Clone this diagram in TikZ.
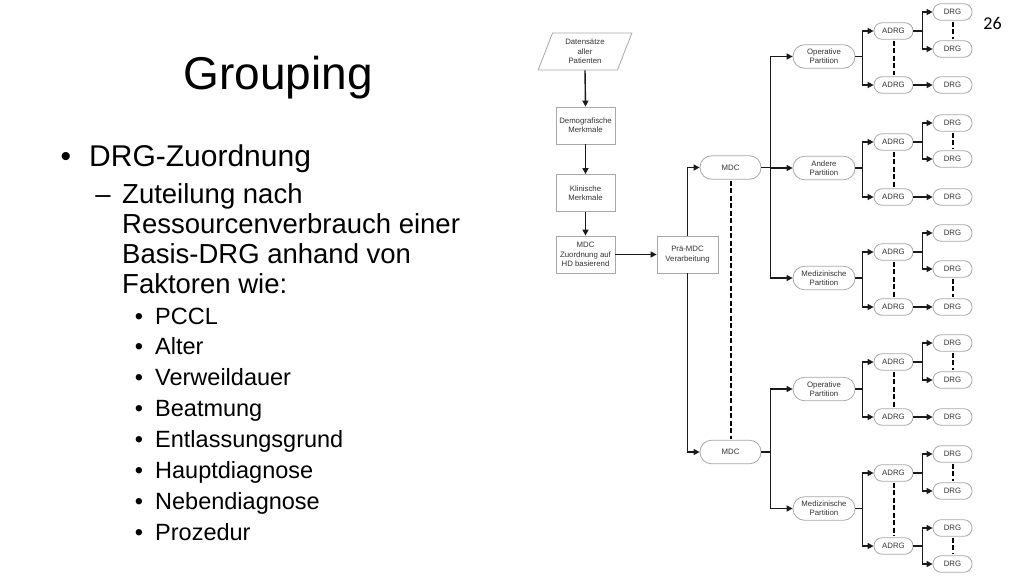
\documentclass[tikz,border=0pt]{standalone}
\usepackage{fontspec}
\setmainfont{Liberation Sans}
\newfontfamily\calib{Carlito}
\usetikzlibrary{arrows.meta,shapes.geometric}
\definecolor{nodeborder}{HTML}{A8A8A8}
\definecolor{ntext}{HTML}{333333}
\definecolor{conncol}{HTML}{1A1A1A}
\begin{document}
\begin{tikzpicture}[x=1pt,y=-1pt,
 box/.style={draw=nodeborder, line width=0.8pt, fill=white, text=ntext, font=\fontsize{7.8}{9.3}\selectfont, align=center, inner sep=0pt},
 rectbox/.style={box, minimum width=59pt, minimum height=37pt},
 pill/.style={box, rounded corners=8pt, minimum width=39pt, minimum height=16.5pt},
 bigpill/.style={box, rounded corners=11.5pt, minimum width=61pt, minimum height=23.5pt},
 conn/.style={draw=conncol, line width=1.4pt, -{Triangle[length=6pt,width=6pt]}},
 dashln/.style={draw=black, line width=2pt, dash pattern=on 5pt off 2.5pt, shorten <=1pt, shorten >=1pt},
 txt/.style={inner sep=0pt, anchor=base west},
 bul/.style={inner sep=0pt, anchor=base},
 f1/.style={font=\fontsize{46}{54}\selectfont},
 f2/.style={font=\fontsize{30}{36}\selectfont},
 f3/.style={font=\fontsize{27.5}{33}\selectfont},
 f4/.style={font=\fontsize{23.5}{28}\selectfont}
]
\useasboundingbox[fill=white] (0,0) rectangle (1024,576);

% left text
\node[bul,f1] (title) at (278,89) {Grouping};
\node[bul,f2] (b1) at (66,166) {•};
\node[txt,f2] (t1) at (89,166) {DRG-Zuordnung};
\node[bul,f3] (b2) at (103,203) {–};
\node[txt,f3] (t2a) at (122,203) {Zuteilung nach};
\node[txt,f3] (t2b) at (122,233) {Ressourcenverbrauch einer};
\node[txt,f3] (t2c) at (122,263) {Basis-DRG anhand von};
\node[txt,f3] (t2d) at (122,293) {Faktoren wie:};
\foreach \lab [count=\i from 0] in {PCCL,Alter,Verweildauer,Beatmung,Entlassungsgrund,Hauptdiagnose,Nebendiagnose,Prozedur}{
  \node[bul,f4] (sb\i) at (139,324+30.86*\i) {•};
  \node[txt,f4] (st\i) at (155,324+30.86*\i) {\lab};
}
\node[bul,font=\calib\fontsize{18}{20}\selectfont] (num) at (992.5,29) {26};

% flow chart left column
\node[box, trapezium, trapezium left angle=70, trapezium right angle=110, trapezium stretches=true, minimum width=94pt, minimum height=37pt] (dat) at (585,51.5) {Datensätze\\aller\\Patienten};
\node[rectbox] (demo) at (585.5,125.5) {Demografische\\Merkmale};
\node[rectbox] (klin) at (585.5,193) {Klinische\\Merkmale};
\node[rectbox] (zuo) at (585.5,254.5) {MDC\\Zuordnung auf\\HD basierend};
\node[rectbox, minimum width=61pt] (pra) at (687.5,254.5) {Prä-MDC\\Verarbeitung};
\node[bigpill] (mdcA) at (730.5,167.5) {MDC};
\node[bigpill] (mdcB) at (730.5,452) {MDC};

\draw[conn] (dat.south) -- (demo.north);
\draw[conn] (demo.south) -- (klin.north);
\draw[conn] (klin.south) -- (zuo.north);
\draw[conn] (zuo.east) -- (pra.west);
\draw[conn] (pra.north) |- (mdcA.west);
\draw[conn] (pra.south) |- (mdcB.west);
\draw[dashln] (mdcA.south) -- (mdcB.north);

% partitions
\node[bigpill, minimum width=62pt] (p1) at (824,56.5) {Operative\\Partition};
\node[bigpill, minimum width=62pt] (p2) at (824,168) {Andere\\Partition};
\node[bigpill, minimum width=62pt] (p3) at (824,278) {Medizinische\\Partition};
\node[bigpill, minimum width=62pt] (p4) at (824,389) {Operative\\Partition};
\node[bigpill, minimum width=62pt] (p5) at (824,508.5) {Medizinische\\Partition};
\foreach \p in {p1,p2,p3}{\draw[conn] (mdcA.east) -- ++(9,0) |- (\p.west);}
\foreach \p in {p4,p5}{\draw[conn] (mdcB.east) -- ++(9,0) |- (\p.west);}

% ADRG and DRG nodes
\foreach \g/\ya/\yb in {1/31/85, 2/142/197, 3/252/307, 4/362/417, 5/473/546}{
  \node[pill] (g\g a1) at (893.5,\ya) {ADRG};
  \node[pill] (g\g a2) at (893.5,\yb) {ADRG};
  \draw[conn] (p\g.east) -- ++(7,0) |- (g\g a1.west);
  \draw[conn] (p\g.east) -- ++(7,0) |- (g\g a2.west);
  \draw[dashln] (g\g a1.south) -- (g\g a2.north);
}
\foreach \g/\ya/\yb/\yc in {1/12/49/85, 2/123/159/197, 3/233/269/307, 4/343/380/417}{
  \node[pill] (g\g d1) at (952.5,\ya) {DRG};
  \node[pill] (g\g d2) at (952.5,\yb) {DRG};
  \node[pill] (g\g d3) at (952.5,\yc) {DRG};
  \draw[conn] (g\g a1.east) -- ++(9,0) |- (g\g d1.west);
  \draw[conn] (g\g a1.east) -- ++(9,0) |- (g\g d2.west);
  \draw[conn] (g\g a2.east) -- (g\g d3.west);
}
\draw[dashln] (g1d1.south) -- (g1d2.north);
\draw[dashln] (g2d1.south) -- (g2d2.north);
\draw[dashln] (g3d2.south) -- (g3d3.north);
\draw[dashln] (g4d1.south) -- (g4d2.north);

\node[pill] (g5d1) at (952.5,454) {DRG};
\node[pill] (g5d2) at (952.5,491) {DRG};
\node[pill] (g5d3) at (952.5,528) {DRG};
\node[pill] (g5d4) at (952.5,564) {DRG};
\draw[conn] (g5a1.east) -- ++(9,0) |- (g5d1.west);
\draw[conn] (g5a1.east) -- ++(9,0) |- (g5d2.west);
\draw[conn] (g5a2.east) -- ++(9,0) |- (g5d3.west);
\draw[conn] (g5a2.east) -- ++(9,0) |- (g5d4.west);
\draw[dashln] (g5d1.south) -- (g5d2.north);
\draw[dashln] (g5d3.south) -- (g5d4.north);
\end{tikzpicture}
\end{document}
